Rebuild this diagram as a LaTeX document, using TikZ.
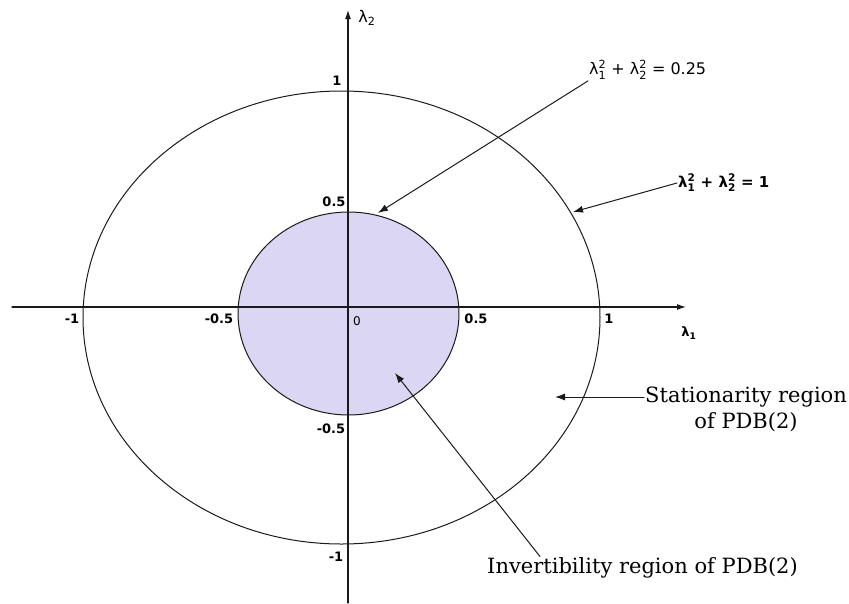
\documentclass[tikz,border=0pt]{standalone}
\usepackage{amsmath}
\usepackage{fontspec}
\setmainfont{DejaVu Serif}
\newfontfamily\labelfont{DejaVu Sans}
\usetikzlibrary{arrows.meta,positioning}
\definecolor{lavender}{HTML}{DAD6F3}
\definecolor{ink}{HTML}{1A1A1A}
\newcommand{\lsq}[1]{λ$^{\text{2}}_{\text{#1}}$}
\tikzset{
    every picture/.style={line cap=round,line join=round},
    axisline/.style={draw=ink,line width=1.1pt,-{Latex[length=9pt,width=6pt]}},
    regionline/.style={draw=ink,line width=1pt},
    pointer/.style={draw=ink,line width=1pt,-{Latex[length=10pt,width=7pt]}},
    ticklabel/.style={font=\labelfont\bfseries\fontsize{13}{13}\selectfont,inner sep=1pt},
    eqlabel/.style={font=\labelfont\fontsize{16}{16}\selectfont,inner sep=1pt},
    notelabel/.style={font=\fontsize{21}{24}\selectfont,inner sep=1pt}
}

\begin{document}
\begin{tikzpicture}[x=1pt,y=-1pt]
    \useasboundingbox (0,0) rectangle (849,603);
    % the two regions
    \draw[regionline] (341.5,317.5) ellipse [x radius=258.5,y radius=226.5];
    \draw[regionline,fill=lavender] (348.5,313.5) ellipse [x radius=110.5,y radius=101.5];
    % axes
    \coordinate (xstart) at (12,307);
    \coordinate (xend) at (686,307);
    \coordinate (ystart) at (348,603);
    \coordinate (yend) at (348,10);
    \draw[axisline] (xstart) -- (xend);
    \draw[axisline] (ystart) -- (yend);
    \node[ticklabel] (lamone) at (689,333) {λ\textsubscript{1}};
    \node[ticklabel,font=\labelfont\fontsize{16}{16}\selectfont] (lamtwo) at (367,18) {λ\textsubscript{2}};
    % tick values
    \foreach \name/\x/\y/\txt in {xmone/72/319/-1, xmhalf/219/319/-0.5, xphalf/476/319/0.5,
        xpone/609/319/1, ypone/337/81/1, yphalf/334/202/0.5, ymhalf/331/429/-0.5, ymone/336/557/-1}
        \node[ticklabel] (\name) at (\x,\y) {\txt};
    \node[ticklabel,font=\labelfont\fontsize{12}{12}\selectfont] (origin) at (357,321) {0};
    % boundary equations
    \node[eqlabel,anchor=west] (eqinner) at (588,70) {\lsq{1} + \lsq{2} = 0.25};
    \node[eqlabel,font=\labelfont\bfseries\fontsize{15}{15}\selectfont,anchor=west] (eqouter) at (677,183)
      {\lsq{1} + \lsq{2} = 1};
    \coordinate (innerhit) at (378,213);
    \coordinate (outerhit) at (573,212);
    \draw[pointer] (eqinner.south west) -- (innerhit);
    \draw[pointer] (eqouter.west) -- (outerhit);
    % region notes
    \node[notelabel,anchor=west] (statline) at (644,397) {Stationarity region};
    \node[notelabel,below=3pt of statline] (statpdb) {of PDB(2)};
    \coordinate (stathit) at (555,397);
    \draw[pointer] (statline.west) -- (stathit);
    \node[notelabel,anchor=west] (invnote) at (486,568) {Invertibility region of PDB(2)};
    \coordinate (invhit) at (395,373);
    \draw[pointer] ([xshift=54pt]invnote.north west) -- (invhit);
\end{tikzpicture}
\end{document}
